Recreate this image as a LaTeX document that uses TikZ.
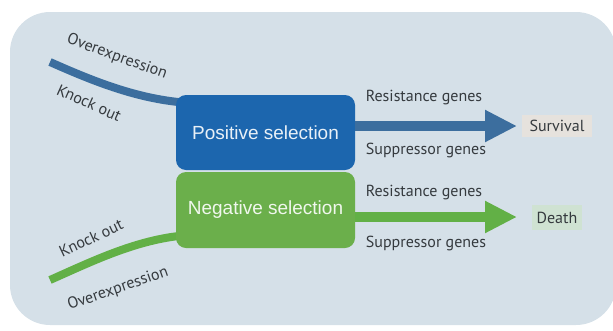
\documentclass[tikz,border=0pt]{standalone}
\usepackage{fontspec}
\usetikzlibrary{arrows.meta}
\newfontfamily\labf{PT Sans}
\newfontfamily\boxf{Liberation Sans}
\definecolor{bgc}{HTML}{D5E0E8}
\definecolor{posc}{HTML}{1C66AE}
\definecolor{negc}{HTML}{6BAF4B}
\definecolor{bluel}{HTML}{3C6E9E}
\definecolor{greenl}{HTML}{62B046}
\definecolor{txtc}{HTML}{353A3E}
\definecolor{survc}{HTML}{E6E2DD}
\definecolor{deathc}{HTML}{CFE2D2}
\tikzset{
  selbox/.style={rounded corners=10pt, minimum width=179pt, inner sep=0pt, text=white!90!#1, font=\boxf\fontsize{19}{21}\selectfont},
  lab/.style={font=\labf\fontsize{16}{18}\selectfont, text=txtc, inner sep=0pt},
  outc/.style={font=\labf\fontsize{16}{18}\selectfont, text=txtc, inner sep=0pt},
  inline/.style={line width=8pt},
  outarrow/.style={line width=10pt, -{Triangle[length=32pt, width=30pt]}}
}
\begin{document}
\begin{tikzpicture}[x=1pt,y=-1pt]
\useasboundingbox (0,0) rectangle (613,330);
\begin{scope}
\clip (0,0) rectangle (613,330);
\fill[bgc, rounded corners=40pt] (10,12) rectangle (616,325);
\end{scope}
% incoming curves
\coordinate (bs) at (50,62);
\coordinate (be) at (190,103);
\coordinate (gs) at (50,280);
\coordinate (ge) at (190,235);
\draw[inline, bluel] (bs) .. controls (95,82) and (140,100) .. (be);
\draw[inline, greenl] (gs) .. controls (95,260) and (140,238) .. (ge);
% boxes
\node[selbox=posc, fill=posc, minimum height=75pt] (pos) at (265.5,132.5) {Positive selection};
\node[selbox=negc, fill=negc, minimum height=76pt] (neg) at (265.5,210) {Negative selection};
% outcomes
\node[outc, fill=survc, minimum width=70pt, minimum height=22pt] (surv) at (557,126) {Survival};
\node[outc, fill=deathc, minimum width=50pt, minimum height=25pt] (death) at (557,217.5) {Death};
% out arrows
\coordinate (bo) at (pos.east |- 0,126);
\coordinate (bt) at (517,126);
\coordinate (go) at (neg.east |- 0,217);
\coordinate (gt) at (517,217);
\draw[outarrow, bluel] (bo) -- (bt);
\draw[outarrow, greenl] (go) -- (gt);
% labels
\node[lab] (r1) at (424,98) {Resistance genes};
\node[lab] (s1) at (426,150) {Suppressor genes};
\node[lab] (r2) at (424,193) {Resistance genes};
\node[lab] (s2) at (426,243) {Suppressor genes};
\node[lab, rotate=-20] (o1) at (117,57) {Overexpression};
\node[lab, rotate=-24] (k1) at (89,103) {Knock out};
\node[lab, rotate=25] (k2) at (91,238) {Knock out};
\node[lab, rotate=19] (o2) at (118,289) {Overexpression};
\end{tikzpicture}
\end{document}
